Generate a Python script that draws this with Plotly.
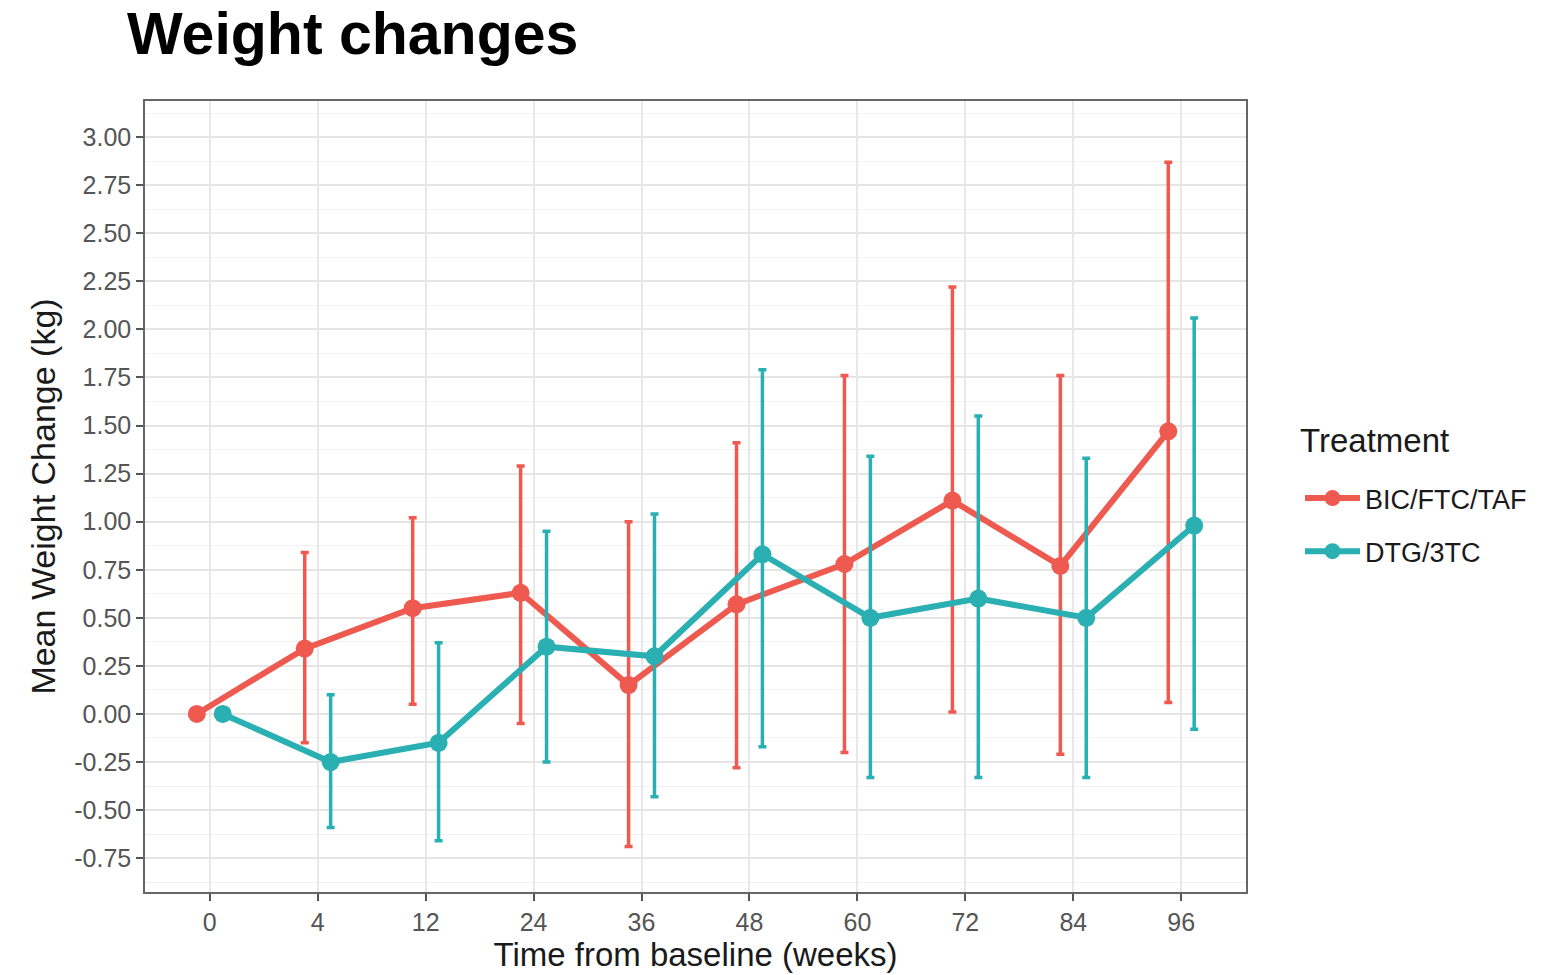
import plotly.graph_objects as go

weeks = ["0", "4", "12", "24", "36", "48", "60", "72", "84", "96"]

bic_mean = [0.00, 0.34, 0.55, 0.63, 0.15, 0.57, 0.78, 1.11, 0.77, 1.47]
bic_upper = [0.00, 0.84, 1.02, 1.29, 1.00, 1.41, 1.76, 2.22, 1.76, 2.87]
bic_lower = [0.00, -0.15, 0.05, -0.05, -0.69, -0.28, -0.20, 0.01, -0.21, 0.06]

dtg_mean = [0.00, -0.25, -0.15, 0.35, 0.30, 0.83, 0.50, 0.60, 0.50, 0.98]
dtg_upper = [0.00, 0.10, 0.37, 0.95, 1.04, 1.79, 1.34, 1.55, 1.33, 2.06]
dtg_lower = [0.00, -0.59, -0.66, -0.25, -0.43, -0.17, -0.33, -0.33, -0.33, -0.08]

y_ticks = [3.00, 2.75, 2.50, 2.25, 2.00, 1.75, 1.50, 1.25, 1.00, 0.75, 0.50, 0.25, 0.00,
           -0.25, -0.50, -0.75]

RED = "#EE5A4F"
TEAL = "#2AAFB2"
DODGE = 0.12

fig = go.Figure()


def add_series(name, mean, upper, lower, color, offset, group):
    xs = [i + offset for i in range(len(weeks))]
    fig.add_trace(go.Scatter(
        x=xs, y=mean, name=name, mode="lines+markers", legendgroup=group,
        line=dict(color=color, width=6),
        marker=dict(color=color, size=18),
        error_y=dict(type="data", symmetric=False,
                     array=[u - m for u, m in zip(upper, mean)],
                     arrayminus=[m - l for m, l in zip(mean, lower)],
                     color=color, thickness=3.5, width=4),
    ))


add_series("BIC/FTC/TAF", bic_mean, bic_upper, bic_lower, RED, -DODGE, "a")
add_series("DTG/3TC", dtg_mean, dtg_upper, dtg_lower, TEAL, DODGE, "b")

PL, PR, PT, PB = 145, 1246, 101, 892


def py(ypx):
    return (PB - ypx) / (PB - PT)


def px(xpx):
    return (xpx - PL) / (PR - PL)


fig.update_layout(
    width=1552, height=975,
    margin=dict(l=PL, r=1552 - PR, t=PT, b=975 - PB),
    paper_bgcolor="white", plot_bgcolor="white",
    font=dict(family="Liberation Sans, Arial, sans-serif", color="#1a1a1a"),
    title=dict(text="<b>Weight changes</b>", x=127 / 1552, xanchor="left",
               y=1 - 33 / 975, yanchor="middle",
               font=dict(size=59, color="black")),
    legend=dict(x=px(1300), xanchor="left", y=py(474), yanchor="top",
                font=dict(size=27, color="#1a1a1a"), tracegroupgap=15,
                itemwidth=55, bgcolor="rgba(0,0,0,0)"),
    showlegend=True,
    annotations=[dict(text="Treatment", xref="paper", yref="paper",
                      x=px(1298), y=py(440), xanchor="left", yanchor="middle",
                      showarrow=False, font=dict(size=33, color="#1a1a1a"))],
)

fig.update_xaxes(
    range=[-0.6, len(weeks) - 1 + 0.6],
    tickmode="array", tickvals=list(range(len(weeks))), ticktext=weeks,
    tickfont=dict(size=25, color="#555555"),
    ticks="outside", ticklen=7, tickcolor="#555555", tickwidth=1.5,
    showgrid=True, gridcolor="#E8E8E8", gridwidth=1.5,
    showline=True, linecolor="#666666", linewidth=1.5, mirror=True,
    zeroline=False,
    title=dict(text="Time from baseline (weeks)", font=dict(size=33, color="#1a1a1a"),
               standoff=5),
)

fig.update_yaxes(
    range=[-0.926, 3.188],
    tickmode="array", tickvals=y_ticks, ticktext=[f"{v:.2f}" for v in y_ticks],
    tickfont=dict(size=25, color="#555555"),
    ticks="outside", ticklen=7, tickcolor="#555555", tickwidth=1.5,
    showgrid=True, gridcolor="#E5E5E5", gridwidth=1.5,
    minor=dict(dtick=0.125, tick0=0.125, showgrid=True, gridcolor="#F2F2F2", gridwidth=1),
    showline=True, linecolor="#666666", linewidth=1.5, mirror=True,
    zeroline=False,
    title=dict(text="Mean Weight Change (kg)", font=dict(size=34, color="#1a1a1a"),
               standoff=8),
)

fig.write_html("out.html")
